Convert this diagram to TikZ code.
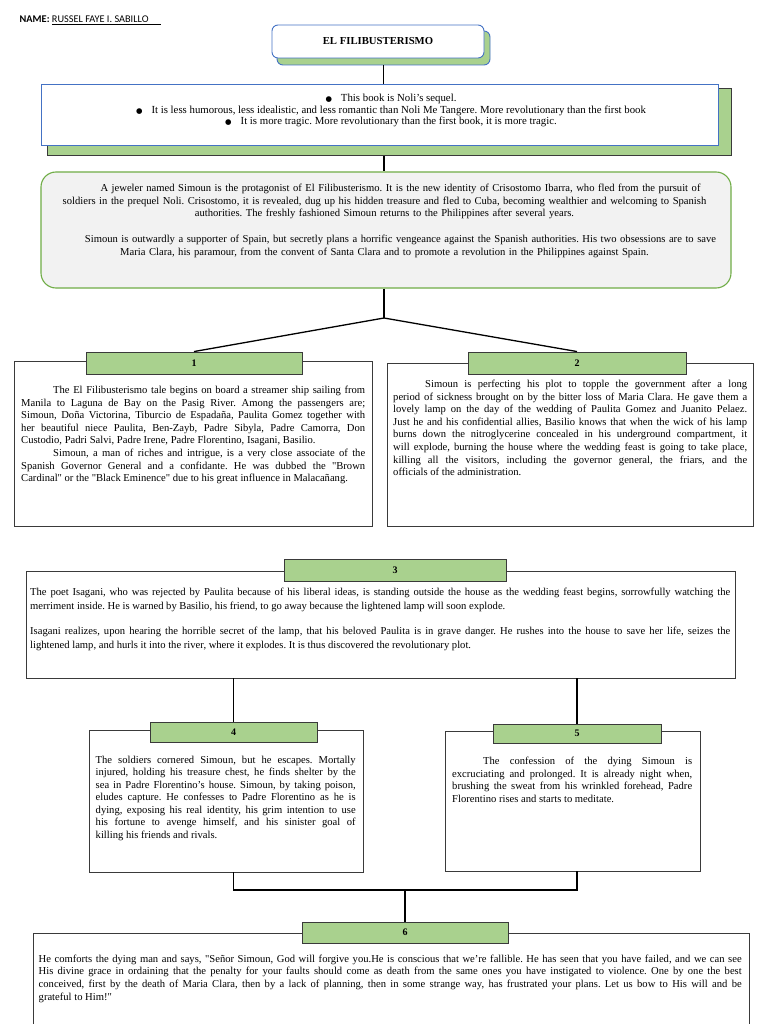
\documentclass[tikz,border=0pt]{standalone}
\usepackage{fontspec}
\setmainfont{Liberation Serif}[Ligatures=TeXOff]
\newfontfamily\carlito{Carlito}
\newfontfamily\dejavu{DejaVu Sans}
\usetikzlibrary{calc}
\definecolor{lgreen}{HTML}{A9D18E}
\definecolor{mgreen}{HTML}{70AD47}
\definecolor{wblue}{HTML}{4472C4}
\definecolor{lgray}{HTML}{F2F2F2}
\definecolor{dgray}{HTML}{3A3A3A}
\tikzset{
  box/.style={draw=dgray, line width=0.9pt, fill=white, inner sep=0pt},
  numlabel/.style={draw=dgray, line width=0.9pt, fill=lgreen, inner sep=0pt,
    font=\bfseries\fontsize{10}{10}\selectfont},
  conn/.style={draw=black, line width=1.3pt},
  para/.style={inner sep=0pt, anchor=north west, align=justify},
}
\newcommand{\ind}{\hspace*{32pt}}
\newcommand{\bul}{{\dejavu\fontsize{7.4}{7}\selectfont ●}\hspace{9pt}}
\begin{document}
\begin{tikzpicture}[x=1pt,y=-1pt]
\frenchspacing
\tolerance=9999 \hbadness=10000 \hyphenpenalty=10000
\fill[white] (0,0) rectangle (768,1024);
\useasboundingbox (0,0) rectangle (768,1024);
\clip (0,0) rectangle (768,1024);

% name
\node[anchor=base west, inner sep=0pt, font=\carlito\fontsize{10.3}{11}\selectfont] (name) at (19.5,22.5)
  {\textbf{NAME:} \underline{RUSSEL FAYE I. SABILLO\hspace{12pt}}};

% title
\node[draw=wblue, line width=0.9pt, fill=lgreen, rounded corners=6pt, minimum width=213pt, minimum height=34pt] (tsh) at (383.5,48) {};
\node[draw=wblue, line width=0.9pt, fill=white, rounded corners=6pt, minimum width=212pt, minimum height=33pt,
  font=\bfseries\fontsize{10.7}{12}\selectfont] (title) at (378,41.5) {EL FILIBUSTERISMO};

% bullets box
\node[draw=dgray, line width=1pt, fill=lgreen, minimum width=684pt, minimum height=67pt, inner sep=0pt] (bsh) at (389,122.5) {};
\node[draw=wblue, line width=0.9pt, fill=white, minimum width=677pt, minimum height=61pt, inner sep=0pt] (bul) at (379.5,114.5) {};
\node[inner sep=0pt, anchor=north, align=center, font=\fontsize{10.8}{11.7}\selectfont] (tb) at (391,93.8)
  {\bul This book is Noli’s sequel.\\
   \bul It is less humorous, less idealistic, and less romantic than Noli Me Tangere. More revolutionary than the first book\\
   \bul It is more tragic. More revolutionary than the first book, it is more tragic.};

% middle box
\node[draw=mgreen, line width=1.1pt, fill=lgray, rounded corners=15pt, minimum width=690pt, minimum height=116pt, inner sep=0pt] (mid) at (386,230) {};
\node[inner sep=0pt, anchor=north, align=center, text width=720pt, font=\fontsize{10.6}{12.7}\selectfont] (tm) at (384.5,183.9)
  {\ind A jeweler named Simoun is the protagonist of El Filibusterismo. It is the new identity of Crisostomo Ibarra, who fled from the pursuit of\\
   soldiers in the prequel Noli. Crisostomo, it is revealed, dug up his hidden treasure and fled to Cuba, becoming wealthier and welcoming to Spanish\\
   authorities. The freshly fashioned Simoun returns to the Philippines after several years.\\[12.7pt]
   \ind Simoun is outwardly a supporter of Spain, but secretly plans a horrific vengeance against the Spanish authorities. His two obsessions are to save\\
   Maria Clara, his paramour, from the convent of Santa Clara and to promote a revolution in the Philippines against Spain.};

% boxes
\node[box, minimum width=358pt, minimum height=165pt] (b1) at (193,443.5) {};
\node[box, minimum width=366pt, minimum height=163pt] (b2) at (570,444.5) {};
\node[box, minimum width=709pt, minimum height=107pt] (b3) at (380.5,624.5) {};
\node[box, minimum width=274pt, minimum height=142pt] (b4) at (226,801) {};
\node[box, minimum width=255pt, minimum height=140pt] (b5) at (572.5,801) {};
\node[box, minimum width=716pt, minimum height=117pt] (b6) at (391,991.5) {};

% labels
\node[numlabel, minimum width=216pt, minimum height=22pt] (l1) at (194,363) {1};
\node[numlabel, minimum width=218pt, minimum height=22pt] (l2) at (577,363) {2};
\node[numlabel, minimum width=222pt, minimum height=22pt] (l3) at (395,570) {3};
\node[numlabel, minimum width=167pt, minimum height=20pt] (l4) at (233.5,732) {4};
\node[numlabel, minimum width=168pt, minimum height=19pt] (l5) at (577,733.5) {5};
\node[numlabel, minimum width=206pt, minimum height=21pt] (l6) at (405,932.5) {6};

% texts
\node[para, text width=344pt, font=\fontsize{10.6}{12.6}\selectfont] (t1) at (21,385.9)
  {\ind The El Filibusterismo tale begins on board a streamer ship sailing from\linebreak
   Manila to Laguna de Bay on the Pasig River. Among the passengers are;\linebreak
   Simoun, Doña Victorina, Tiburcio de Espadaña, Paulita Gomez together with\linebreak
   her beautiful niece Paulita, Ben-Zayb, Padre Sibyla, Padre Camorra, Don\linebreak
   Custodio, Padri Salvi, Padre Irene, Padre Florentino, Isagani, Basilio.\par
   \ind Simoun, a man of riches and intrigue, is a very close associate of the\linebreak
   Spanish Governor General and a confidante. He was dubbed the "Brown\linebreak
   Cardinal" or the "Black Eminence" due to his great influence in Malacañang.};

\node[para, text width=354pt, font=\fontsize{10.6}{12.6}\selectfont] (t2) at (393,379.9)
  {\ind Simoun is perfecting his plot to topple the government after a long\linebreak
   period of sickness brought on by the bitter loss of Maria Clara. He gave them a\linebreak
   lovely lamp on the day of the wedding of Paulita Gomez and Juanito Pelaez.\linebreak
   Just he and his confidential allies, Basilio knows that when the wick of his lamp\linebreak
   burns down the nitroglycerine concealed in his underground compartment, it\linebreak
   will explode, burning the house where the wedding feast is going to take place,\linebreak
   killing all the visitors, including the governor general, the friars, and the\linebreak
   officials of the administration.};

\node[para, text width=700pt, font=\fontsize{10.6}{14}\selectfont] (t3) at (30,587.9)
  {The poet Isagani, who was rejected by Paulita because of his liberal ideas, is standing outside the house as the wedding feast begins, sorrowfully watching the\linebreak
   merriment inside. He is warned by Basilio, his friend, to go away because the lightened lamp will soon explode.\par\vspace{11pt}
   Isagani realizes, upon hearing the horrible secret of the lamp, that his beloved Paulita is in grave danger. He rushes into the house to save her life, seizes the\linebreak
   lightened lamp, and hurls it into the river, where it explodes. It is thus discovered the revolutionary plot.};

\node[para, text width=260pt, font=\fontsize{10.6}{12.5}\selectfont] (t4) at (95.5,755.9)
  {The soldiers cornered Simoun, but he escapes. Mortally\linebreak
   injured, holding his treasure chest, he finds shelter by the\linebreak
   sea in Padre Florentino’s house. Simoun, by taking poison,\linebreak
   eludes capture. He confesses to Padre Florentino as he is\linebreak
   dying, exposing his real identity, his grim intention to use\linebreak
   his fortune to avenge himself, and his sinister goal of\linebreak
   killing his friends and rivals.};

\node[para, text width=240pt, font=\fontsize{10.6}{12.7}\selectfont] (t5) at (452,756.9)
  {\hspace*{31pt}The confession of the dying Simoun is\linebreak
   excruciating and prolonged. It is already night when,\linebreak
   brushing the sweat from his wrinkled forehead, Padre\linebreak
   Florentino rises and starts to meditate.};

\node[para, text width=703pt, font=\fontsize{10.6}{12.8}\selectfont] (t6) at (38.5,954.4)
  {He comforts the dying man and says, "Señor Simoun, God will forgive you.He is conscious that we’re fallible. He has seen that you have failed, and we can see\linebreak
   His divine grace in ordaining that the penalty for your faults should come as death from the same ones you have instigated to violence. One by one the best\linebreak
   conceived, first by the death of Maria Clara, then by a lack of planning, then in some strange way, has frustrated your plans. Let us bow to His will and be\linebreak
   grateful to Him!"};

% connectors
\coordinate (J) at (384,318);
\coordinate (K) at (405,890);
\draw[conn] (tsh.south) -- (tsh.south |- bul.north);
\draw[conn] (J |- bsh.south) -- (J |- mid.north);
\draw[conn] (J |- mid.south) -- (J);
\draw[conn] (J) -- (l1.north);
\draw[conn] (J) -- (l2.north);
\draw[conn] (l4.north |- b3.south) -- (l4.north);
\draw[conn] (l5.north |- b3.south) -- (l5.north);
\draw[conn] (l4.north |- b4.south) -- (l4.north |- K) -- (l5.north |- K) -- (l5.north |- b5.south);
\draw[conn] (K) -- (l6.north);
\end{tikzpicture}
\end{document}
